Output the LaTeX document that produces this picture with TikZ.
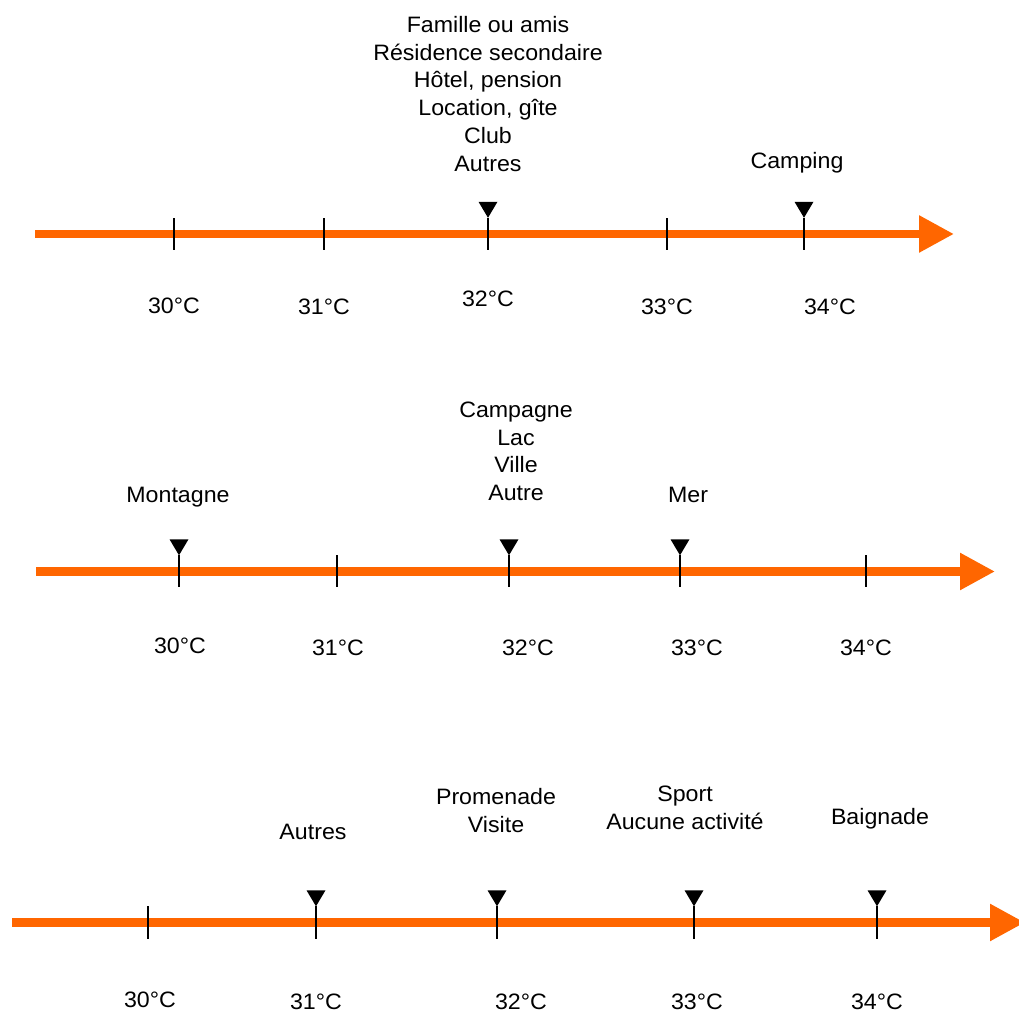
\documentclass[tikz,border=0pt]{standalone}
\usepackage{fontspec}
\setmainfont{Liberation Sans}[FakeStretch=1.04]
\usetikzlibrary{arrows.meta}
\definecolor{axisorange}{RGB}{255,102,0}

\begin{document}
\begin{tikzpicture}[x=1pt, y=1pt,
	axis/.style={draw=axisorange, line width=8.5pt, -{Triangle[length=35pt,width=35pt]}},
	tickmark/.style={fill=black, minimum width=2pt, minimum height=32pt, inner sep=0pt},
	marker/.style={fill=black},
	lbl/.style={font=\fontsize{22.3}{27.8}\selectfont, align=center, inner sep=0pt, anchor=north}]
	\clip (0,0) rectangle (1019,1014);
	\useasboundingbox (0,0) rectangle (1019,1014);

	\coordinate (a1) at (35,780);
	\coordinate (b1) at (954,780);
	\draw [axis] (a1) -- (b1);
	\node[tickmark] (t11) at (174,780) {};
	\node[tickmark] (t12) at (324,780) {};
	\node[tickmark] (t13) at (488,780) {};
	\node[tickmark] (t14) at (667,780) {};
	\node[tickmark] (t15) at (804,780) {};
	\fill[marker] (t13.north) -- ++(-9.5,16) -- ++(19,0) -- cycle;
	\fill[marker] (t15.north) -- ++(-9.5,16) -- ++(19,0) -- cycle;
	\node[lbl] (h1) at (488,998) {Famille ou amis\\Résidence secondaire\\Hôtel, pension\\Location, gîte\\Club\\Autres};
	\node[lbl] (h2) at (797,861.5) {Camping};
	\node[lbl] (c11) at (174,716) {30°C};
	\node[lbl] (c12) at (324,715) {31°C};
	\node[lbl] (c13) at (488,723) {32°C};
	\node[lbl] (c14) at (667,715) {33°C};
	\node[lbl] (c15) at (830,715) {34°C};

	\coordinate (a2) at (36,442.5);
	\coordinate (b2) at (995,442.5);
	\draw [axis] (a2) -- (b2);
	\node[tickmark] (t21) at (179,442.5) {};
	\node[tickmark] (t22) at (337,442.5) {};
	\node[tickmark] (t23) at (509,442.5) {};
	\node[tickmark] (t24) at (680,442.5) {};
	\node[tickmark] (t25) at (866,442.5) {};
	\fill[marker] (t21.north) -- ++(-9.5,16) -- ++(19,0) -- cycle;
	\fill[marker] (t23.north) -- ++(-9.5,16) -- ++(19,0) -- cycle;
	\fill[marker] (t24.north) -- ++(-9.5,16) -- ++(19,0) -- cycle;
	\node[lbl] (s1) at (178,527.5) {Montagne};
	\node[lbl] (s2) at (516,612.5) {Campagne\\Lac\\Ville\\Autre};
	\node[lbl] (s3) at (688,527.5) {Mer};
	\node[lbl] (c21) at (180,376.5) {30°C};
	\node[lbl] (c22) at (338,374.5) {31°C};
	\node[lbl] (c23) at (528,374.5) {32°C};
	\node[lbl] (c24) at (697,374.5) {33°C};
	\node[lbl] (c25) at (866,374.5) {34°C};

	\coordinate (a3) at (12,91.5);
	\coordinate (b3) at (1025,91.5);
	\draw [axis] (a3) -- (b3);
	\node[tickmark] (t31) at (148,91.5) {};
	\node[tickmark] (t32) at (316,91.5) {};
	\node[tickmark] (t33) at (497,91.5) {};
	\node[tickmark] (t34) at (694,91.5) {};
	\node[tickmark] (t35) at (877,91.5) {};
	\fill[marker] (t32.north) -- ++(-9.5,16) -- ++(19,0) -- cycle;
	\fill[marker] (t33.north) -- ++(-9.5,16) -- ++(19,0) -- cycle;
	\fill[marker] (t34.north) -- ++(-9.5,16) -- ++(19,0) -- cycle;
	\fill[marker] (t35.north) -- ++(-9.5,16) -- ++(19,0) -- cycle;
	\node[lbl] (p1) at (313,190.5) {Autres};
	\node[lbl] (p2) at (496,225.5) {Promenade\\Visite};
	\node[lbl] (p3) at (685,228) {Sport\\Aucune activité};
	\node[lbl] (p4) at (880,205.5) {Baignade};
	\node[lbl] (c31) at (150,22.5) {30°C};
	\node[lbl] (c32) at (316,20.5) {31°C};
	\node[lbl] (c33) at (521,20.5) {32°C};
	\node[lbl] (c34) at (697,20.5) {33°C};
	\node[lbl] (c35) at (877,20.5) {34°C};
\end{tikzpicture}
\end{document}
